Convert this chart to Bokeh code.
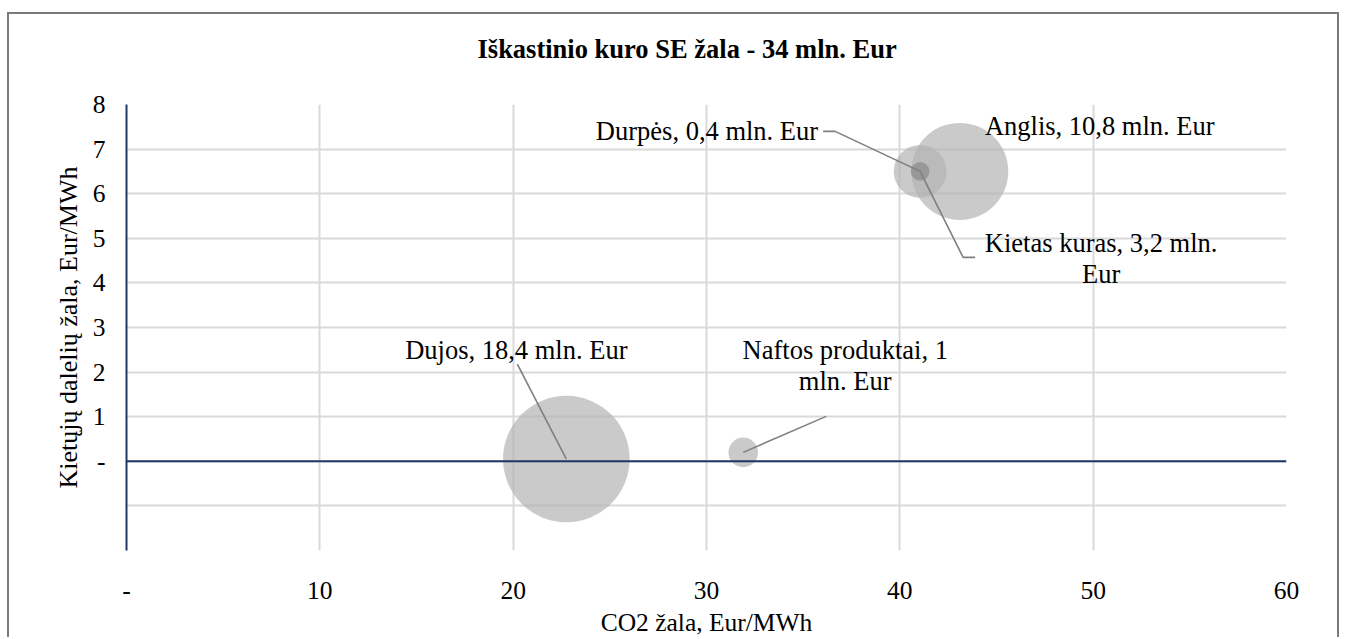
import math
from bokeh.plotting import figure
from bokeh.models import Range1d, FixedTicker, Span, Label
from bokeh.embed import file_html
from bokeh.resources import INLINE

# ---- data ----
names = ["Dujos", "Naftos produktai", "Anglis", "Kietas kuras", "Durpės"]
co2_damage = [22.75, 31.9, 43.1, 41.05, 41.05]      # Eur/MWh (x)
pm_damage = [0.05, 0.2, 6.5, 6.5, 6.5]              # Eur/MWh (y)
total_damage = [18.4, 1.0, 10.8, 3.2, 0.4]          # mln. Eur (bubble size)
chart_title = "Iškastinio kuro SE žala - 34 mln. Eur"
x_title = "CO2 žala, Eur/MWh"
y_title = "Kietųjų dalelių žala, Eur/MWh"
x_ticks = [0, 10, 20, 30, 40, 50, 60]
y_ticks = [-2, -1, 0, 1, 2, 3, 4, 5, 6, 7, 8]

# ---- layout / style ----
FONT = "Liberation Serif"
NAVY = "#1f3864"
GRID = "#d9d9d9"
W, H = 1332, 625
ML, MR, MT, MB = 117, 55, 90, 89
X0, X1, Y0, Y1 = 0, 60, -2, 8
fw, fh = W - ML - MR, H - MT - MB
ppx = fw / (X1 - X0)
ppy = fh / (Y1 - Y0)

p = figure(width=W, height=H, output_backend="svg", toolbar_location=None,
           x_range=Range1d(X0, X1), y_range=Range1d(Y0, Y1),
           min_border_left=ML, min_border_right=MR,
           min_border_top=MT, min_border_bottom=MB)
p.styles = {"border-top": "2px solid #7a7a7a", "border-left": "2px solid #7a7a7a",
            "border-right": "2px solid #7a7a7a", "margin-top": "12px", "margin-left": "7px"}
p.outline_line_color = None
p.background_fill_color = "white"
p.border_fill_color = "white"

# chart title (an empty second line lifts it higher above the plot area)
p.title.text = chart_title + "\n\u00a0"
p.title.align = "left"
p.title.offset = 351
p.title.standoff = 10
p.title.text_line_height = 1.2
p.title.text_font = FONT
p.title.text_font_size = "26.5px"
p.title.text_font_style = "bold"
p.title.text_color = "#000000"

def num_label(v):
    if v == 0:
        return "-"
    if v < 0:
        return ""
    return str(v)

# x axis (labels low, no line)
xa = p.xaxis[0]
xa.ticker = FixedTicker(ticks=x_ticks)
xa.major_label_overrides = {t: num_label(t) for t in x_ticks}
xa.axis_line_color = None
xa.major_tick_line_color = None
xa.minor_tick_line_color = None
xa.major_tick_out = 0
xa.major_tick_in = 0
xa.major_label_text_font = FONT
xa.major_label_text_font_size = "25.5px"
xa.major_label_text_color = "#000000"
xa.major_label_standoff = 31
xa.axis_label = x_title
xa.axis_label_text_font = FONT
xa.axis_label_text_font_size = "25.5px"
xa.axis_label_text_font_style = "normal"
xa.axis_label_text_color = "#000000"
xa.axis_label_standoff = 6

ya = p.yaxis[0]
ya.ticker = FixedTicker(ticks=y_ticks)
ya.major_label_overrides = {t: num_label(t) for t in y_ticks}
ya.axis_line_color = NAVY
ya.axis_line_width = 2
ya.major_tick_line_color = None
ya.minor_tick_line_color = None
ya.major_tick_out = 0
ya.major_tick_in = 0
ya.major_label_text_font = FONT
ya.major_label_text_font_size = "25.5px"
ya.major_label_text_color = "#000000"
ya.major_label_standoff = 21
ya.axis_label = y_title
ya.axis_label_text_font = FONT
ya.axis_label_text_font_size = "26px"
ya.axis_label_text_font_style = "normal"
ya.axis_label_text_color = "#000000"
ya.axis_label_standoff = 7

p.xgrid.ticker = FixedTicker(ticks=x_ticks)
p.ygrid.ticker = FixedTicker(ticks=y_ticks)
p.xgrid.grid_line_color = GRID
p.ygrid.grid_line_color = GRID
p.xgrid.grid_line_width = 2
p.ygrid.grid_line_width = 2

p.add_layout(Span(location=0, dimension="width", line_color=NAVY, line_width=2))

# bubbles (area proportional to damage)
max_d = 126.6
vmax = max(total_damage)
sizes = [max_d * math.sqrt(v / vmax) for v in total_damage]
fills = ["#b4b4b4", "#b4b4b4", "#b4b4b4", "#b4b4b4", "#8a8a8a"]
order = sorted(range(len(names)), key=lambda i: -total_damage[i])
p.scatter([co2_damage[i] for i in order], [pm_damage[i] for i in order],
          size=[sizes[i] for i in order], fill_color=[fills[i] for i in order],
          fill_alpha=0.7, line_color=None)

def fmt(v):
    return ("%g" % v).replace(".", ",")

# label placement: (dx, dy) px from bubble centre, alignment, wrap, leader points (px, up positive)
label_layout = {
    "Dujos": dict(dx=-50, dy=109, align="center", wrap=None, leader=[(0, 0), (-49, 95)]),
    "Naftos produktai": dict(dx=102, dy=87, align="center", wrap=", ", leader=[(0, 0), (83, 36)]),
    "Anglis": dict(dx=140, dy=45, align="center", wrap=None, leader=None),
    "Kietas kuras": dict(dx=181, dy=-87, align="center", wrap=" mln. ", leader=[(0, 0), (43, -86), (55, -86)]),
    "Durpės": dict(dx=-102, dy=40, align="right", wrap=None, leader=[(0, 0), (-85, 40), (-97, 40)]),
}

for i, n in enumerate(names):
    lay = label_layout[n]
    txt = f"{n}, {fmt(total_damage[i])} mln. Eur"
    if lay["wrap"] == ", ":
        txt = f"{n}, {fmt(total_damage[i])}\nmln. Eur"
    elif lay["wrap"] == " mln. ":
        txt = f"{n}, {fmt(total_damage[i])} mln.\nEur"
    cx, cy = co2_damage[i], pm_damage[i]
    if lay["leader"]:
        xs = [cx + a / ppx for a, b in lay["leader"]]
        ys = [cy + b / ppy for a, b in lay["leader"]]
        p.line(xs, ys, line_color="#7f7f7f", line_width=1.6)
    p.add_layout(Label(x=cx, y=cy, x_offset=lay["dx"], y_offset=lay["dy"], text=txt,
                       text_font=FONT, text_font_size="26.5px", text_color="#000000",
                       text_align=lay["align"], text_baseline="middle", text_line_height=1.05))

open("out.html", "w").write(file_html(p, INLINE))
